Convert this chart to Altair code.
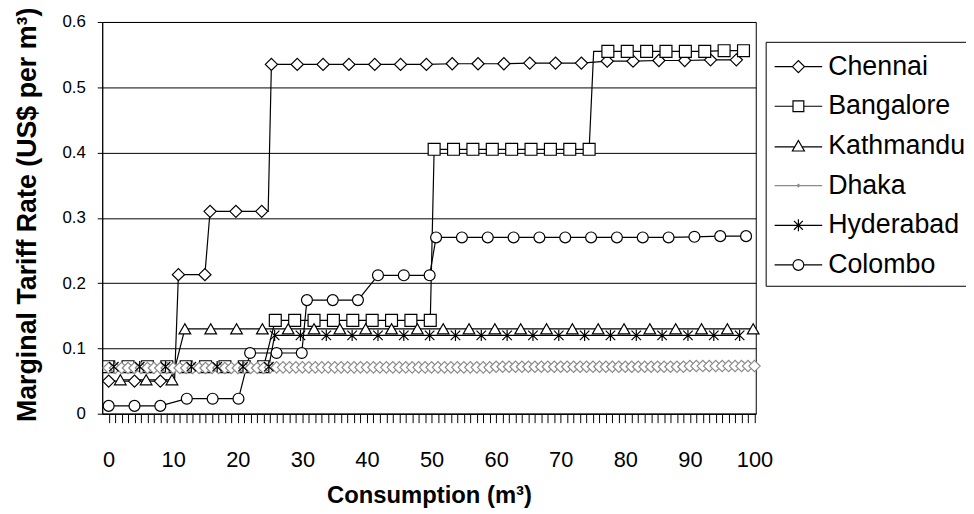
import altair as alt
import pandas as pd

series_names = ["Chennai", "Bangalore", "Kathmandu", "Dhaka", "Hyderabad", "Colombo"]

chennai_x = [0, 4, 8, 10.8, 14.9, 15.7, 19.7, 23.7, 25.2, 29.2, 33.2, 37.2, 41.2, 45.2, 49.2,
             53.2, 57.2, 61.2, 65.2, 69.2, 73.2, 77.2, 81.2, 85.2, 89.2, 93.2, 97.2]
chennai_y = [0.05, 0.05, 0.05, 0.213, 0.213, 0.31, 0.31, 0.31, 0.535, 0.535, 0.535, 0.535, 0.535,
             0.535, 0.535, 0.536, 0.536, 0.536, 0.537, 0.537, 0.537, 0.540, 0.540, 0.541, 0.541,
             0.542, 0.542]
chennai_corner_x = [10.2, 24.7]
chennai_corner_y = [0.05, 0.31]

bangalore_x = [0, 3, 6, 9, 12, 15, 18, 21, 24, 25.8, 28.8, 31.8, 34.8, 37.8, 40.8, 43.8, 46.8, 49.8,
               50.4, 53.4, 56.4, 59.4, 62.4, 65.4, 68.4, 71.4, 74.4, 77.3, 80.3, 83.3, 86.3, 89.3,
               92.3, 95.3, 98.3]
bangalore_y = [0.072, 0.072, 0.072, 0.072, 0.072, 0.072, 0.072, 0.072, 0.072,
               0.143, 0.143, 0.143, 0.143, 0.143, 0.143, 0.143, 0.143, 0.143,
               0.405, 0.405, 0.405, 0.405, 0.405, 0.405, 0.405, 0.405, 0.405,
               0.555, 0.555, 0.555, 0.555, 0.555, 0.555, 0.556, 0.556]
bangalore_corner_x = [75.1]
bangalore_corner_y = [0.555]

kathmandu_x = [1.8, 5.8, 9.8, 11.8, 15.8, 19.8, 23.8, 27.8, 31.8, 35.8, 39.8, 43.8, 47.8, 51.8,
               55.8, 59.8, 63.8, 67.8, 71.8, 75.8, 79.8, 83.8, 87.8, 91.8, 95.8, 99.8]
kathmandu_y = [0.052, 0.052, 0.052, 0.13, 0.13, 0.13, 0.13, 0.13, 0.13, 0.13, 0.13, 0.13, 0.13,
               0.13, 0.13, 0.13, 0.13, 0.13, 0.13, 0.13, 0.13, 0.13, 0.13, 0.13, 0.13, 0.13]

dhaka_x = list(range(0, 101))
dhaka_y = [0.070, 0.070, 0.070, 0.070, 0.070, 0.070, 0.070, 0.070, 0.070, 0.070,
           0.070, 0.070, 0.070, 0.070, 0.070, 0.070, 0.070, 0.070, 0.070, 0.070,
           0.070, 0.070, 0.070, 0.070, 0.070, 0.071, 0.071, 0.071, 0.071, 0.071,
           0.071, 0.071, 0.071, 0.071, 0.071, 0.071, 0.071, 0.071, 0.071, 0.071,
           0.071, 0.071, 0.071, 0.071, 0.071, 0.071, 0.071, 0.071, 0.071, 0.071,
           0.071, 0.071, 0.071, 0.071, 0.071, 0.071, 0.071, 0.071, 0.071, 0.071,
           0.072, 0.072, 0.072, 0.072, 0.072, 0.072, 0.072, 0.072, 0.072, 0.072,
           0.072, 0.072, 0.072, 0.072, 0.072, 0.072, 0.072, 0.072, 0.072, 0.072,
           0.072, 0.072, 0.072, 0.072, 0.072, 0.072, 0.072, 0.072, 0.072, 0.072,
           0.073, 0.073, 0.073, 0.073, 0.073, 0.073, 0.073, 0.073, 0.073, 0.073,
           0.073]

hyderabad_x = [0.8, 4.8, 8.8, 12.8, 16.8, 20.8, 24.8, 25.7, 29.7, 33.7, 37.7, 41.7, 45.7, 49.7,
               53.7, 57.7, 61.7, 65.7, 69.7, 73.7, 77.7, 81.7, 85.7, 89.7, 93.7, 97.7]
hyderabad_y = [0.072, 0.072, 0.072, 0.072, 0.072, 0.072, 0.072, 0.12, 0.12, 0.12, 0.12, 0.12,
               0.12, 0.12, 0.12, 0.12, 0.12, 0.12, 0.12, 0.12, 0.12, 0.12, 0.12, 0.12, 0.12, 0.12]

colombo_x = [0, 4, 8, 12.1, 16.1, 20.1, 21.9, 26, 29.9, 30.7, 34.7, 38.6, 41.7, 45.7, 49.7,
             50.7, 54.7, 58.7, 62.7, 66.7, 70.7, 74.7, 78.7, 82.7, 86.7, 90.7, 94.7, 98.7]
colombo_y = [0.012, 0.012, 0.012, 0.023, 0.023, 0.023, 0.093, 0.093, 0.093, 0.174, 0.174, 0.174,
             0.212, 0.212, 0.212, 0.27, 0.27, 0.27, 0.27, 0.27, 0.27, 0.27, 0.27, 0.27, 0.27,
             0.271, 0.272, 0.272]

x_ticks = list(range(0, 101))
y_ticks = [0, 0.1, 0.2, 0.3, 0.4, 0.5, 0.6]

marker_data = {
    "Chennai": (chennai_x, chennai_y),
    "Bangalore": (bangalore_x, bangalore_y),
    "Kathmandu": (kathmandu_x, kathmandu_y),
    "Dhaka": (dhaka_x, dhaka_y),
    "Hyderabad": (hyderabad_x, hyderabad_y),
    "Colombo": (colombo_x, colombo_y),
}
corner_data = {
    "Chennai": (chennai_corner_x, chennai_corner_y),
    "Bangalore": (bangalore_corner_x, bangalore_corner_y),
}

rows = []
for name in series_names:
    xs, ys = marker_data[name]
    for xv, yv in zip(xs, ys):
        rows.append({"series": name, "x": xv, "y": yv, "kind": "marker"})
    if name in corner_data:
        cx, cy = corner_data[name]
        for xv, yv in zip(cx, cy):
            rows.append({"series": name, "x": xv, "y": yv, "kind": "corner"})
df = pd.DataFrame(rows)

FONT = "Liberation Sans"
stroke_scale = alt.Scale(domain=series_names,
                         range=["black", "black", "black", "#8a8a8a", "black", "black"])
star_path = "M-0.85,-0.85L0.85,0.85M-0.85,0.85L0.85,-0.85M0,-1L0,1"
chart_shapes = ["diamond", "square", "triangle-up", "diamond", star_path, "circle"]
chart_sizes = [150, 121, 150, 14, 130, 121]

# legend symbols: 32px box (scale 16 px per unit), line spans x -1..2, marker centred at 0.5
legend_paths = [
    "M-1,0L0.12,0M0.88,0L2,0M0.12,0L0.5,-0.38L0.88,0L0.5,0.38Z",
    "M-1,0L0.16,0M0.84,0L2,0M0.16,-0.34L0.84,-0.34L0.84,0.34L0.16,0.34Z",
    "M-1,0.06L0.3,0.06M0.7,0.06L2,0.06M0.5,-0.34L0.88,0.32L0.12,0.32Z",
    "M-1,0L2,0M0.42,0L0.5,-0.08L0.58,0L0.5,0.08Z",
    "M-1,0L2,0M0.22,-0.28L0.78,0.28M0.22,0.28L0.78,-0.28M0.5,-0.38L0.5,0.38",
    "M-1,0L0.16,0M0.84,0L2,0M0.16,0A0.34,0.34,0,1,0,0.84,0A0.34,0.34,0,1,0,0.16,0Z",
]

x_enc = alt.X("x:Q", scale=alt.Scale(domain=[-1, 100.2], nice=False, zero=False),
              axis=alt.Axis(values=x_ticks,
                            labelExpr="datum.value % 10 === 0 ? datum.label : ''",
                            format="d", labelOverlap=False, labelFlush=False,
                            tickSize=9, tickColor="black", tickWidth=1,
                            domainColor="black", grid=False,
                            labelFontSize=22, labelFont=FONT, labelColor="black",
                            labelPadding=27,
                            title="Consumption (m³)", titleFontSize=24, titleFont=FONT,
                            titleFontWeight="bold", titleColor="black",
                            titleY=83, titleBaseline="middle"))
y_enc = alt.Y("y:Q", scale=alt.Scale(domain=[0, 0.6], nice=False),
              axis=alt.Axis(values=y_ticks,
                            labelExpr="datum.value === 0 ? '0' : format(datum.value, '.1f')",
                            tickSize=5, tickColor="black", domainColor="black",
                            grid=True, gridColor="black", gridWidth=1,
                            labelFontSize=17, labelFont=FONT, labelColor="black",
                            labelPadding=12,
                            title="Marginal Tariff Rate (US$ per m³)", titleFontSize=27,
                            titleFont=FONT, titleFontWeight="bold", titleColor="black",
                            titleX=-75, titleY=194, titleBaseline="middle", titleAlign="center",
                            titleAngle=270))

lines = alt.Chart(df).mark_line(strokeWidth=1.2).encode(
    x=x_enc, y=y_enc,
    detail="series:N",
    stroke=alt.Stroke("series:N", scale=stroke_scale, legend=None),
    order=alt.Order("x:Q"),
)

points = alt.Chart(df).transform_filter("datum.kind === 'marker'").mark_point(
    filled=True, fill="white", strokeWidth=1.2, opacity=1
).encode(
    x=x_enc, y=y_enc,
    shape=alt.Shape("series:N", scale=alt.Scale(domain=series_names, range=chart_shapes), legend=None),
    stroke=alt.Stroke("series:N", scale=stroke_scale, legend=None),
    size=alt.Size("series:N", scale=alt.Scale(domain=series_names, range=chart_sizes), legend=None),
)

legend_layer = alt.Chart(df).transform_filter("datum.x < -50").mark_point(
    filled=False, strokeWidth=1.2, opacity=1, color="black"
).encode(
    x=x_enc, y=y_enc,
    shape=alt.Shape("series:N", scale=alt.Scale(domain=series_names, range=legend_paths),
                    legend=alt.Legend(title=None, orient="none", legendX=669, legendY=20,
                                      symbolSize=1024, symbolFillColor="white",
                                      symbolStrokeColor=alt.ExprRef("datum.value === 'Dhaka' ? '#8a8a8a' : 'black'"),
                                      symbolStrokeWidth=1.2, symbolOpacity=1,
                                      labelFontSize=27, labelFont=FONT, labelColor="black",
                                      labelOffset=21, rowPadding=10, padding=8,
                                      strokeColor="black", fillColor="white",
                                      cornerRadius=0, labelLimit=400)),
)

chart = alt.layer(lines, points, legend_layer).resolve_scale(shape="independent").properties(
    width=659, height=395,
    padding={"left": 95, "top": 12, "right": 212, "bottom": 96},
    autosize=alt.AutoSizeParams(type="none"),
    background="white",
).configure_view(stroke="black", strokeWidth=1)

chart.save("out.html", embed_options={"renderer": "svg", "actions": False})
